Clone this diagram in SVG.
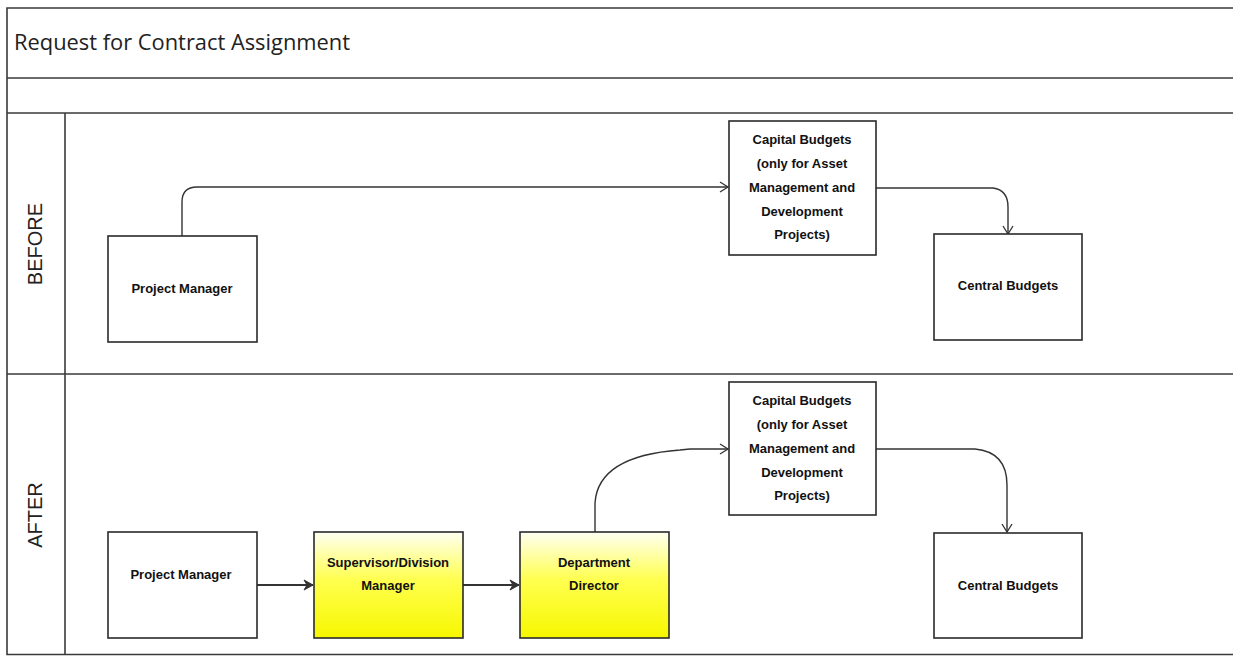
<svg xmlns="http://www.w3.org/2000/svg" width="1233" height="656" viewBox="0 0 1233 656">
<style>
.frame{fill:none;stroke:#3a3a3a;stroke-width:1.6}
.box{stroke:#2a2a2a;stroke-width:1.6}
.white{fill:#ffffff}
.yel{fill:url(#yg)}
.t{font-family:"Liberation Sans",Arial,sans-serif;font-size:13px;font-weight:bold;fill:#111;text-anchor:middle}
.lane{font-family:"Liberation Sans",Arial,sans-serif;font-size:20px;fill:#222;text-anchor:middle}
.conn{fill:none;stroke:#333;stroke-width:1.4}
.solid{fill:none;stroke:#333;stroke-width:2}
</style>
<defs>
<linearGradient id="yg" x1="0" y1="0" x2="0" y2="1">
<stop offset="0" stop-color="#fffff2"/>
<stop offset="0.45" stop-color="#ffff50"/>
<stop offset="1" stop-color="#f7f700"/>
</linearGradient>
<marker id="open" markerWidth="12" markerHeight="12" refX="10" refY="6" orient="auto" markerUnits="userSpaceOnUse">
<path d="M2,1 L10,6 L2,11" fill="none" stroke="#333" stroke-width="1.3"/>
</marker>
<marker id="fill" markerWidth="12" markerHeight="12" refX="10" refY="6" orient="auto" markerUnits="userSpaceOnUse">
<path d="M1,1 L10,6 L1,11 L4,6 Z" fill="#333" stroke="#333" stroke-width="1"/>
</marker>
</defs>
<rect width="1233" height="656" fill="#ffffff"/>
<g id="frame">
<path class="frame" d="M1233,8 H7 V654.5 H1233"/>
<line class="frame" x1="7" y1="78" x2="1233" y2="78"/>
<line class="frame" x1="7" y1="113" x2="1233" y2="113"/>
<line class="frame" x1="7" y1="374" x2="1233" y2="374"/>
<line class="frame" x1="65" y1="113" x2="65" y2="654.5"/>
<text x="14" y="50" font-family="'Open Sans','Liberation Sans',sans-serif" font-size="21" fill="#222" textLength="336" lengthAdjust="spacingAndGlyphs">Request for Contract Assignment</text>
<text class="lane" transform="translate(42,244) rotate(-90)">BEFORE</text>
<text class="lane" transform="translate(42,515) rotate(-90)">AFTER</text>
</g>
<g id="connectors">
<path class="conn" d="M182,236 V202 Q182,187 197,187 H728" marker-end="url(#open)"/>
<path class="conn" d="M876,188 H993 Q1008,190 1008,207 V234" marker-end="url(#open)"/>
<path class="solid" d="M257,585 H313" marker-end="url(#fill)"/>
<path class="solid" d="M463,585 H519" marker-end="url(#fill)"/>
<path class="conn" d="M595,532 V503 Q598,456 680,450 L690,449 H728" marker-end="url(#open)"/>
<path class="conn" d="M876,449 H975 Q1007,452 1007,485 V532" marker-end="url(#open)"/>
</g>
<g id="before-pm">
<rect class="box white" x="108" y="236" width="149" height="106"/>
<text class="t" x="182" y="293">Project Manager</text>
</g>
<g id="before-capital">
<rect class="box white" x="729" y="121" width="147" height="134"/>
<text class="t" x="802" y="144">Capital Budgets</text>
<text class="t" x="802" y="168">(only for Asset</text>
<text class="t" x="802" y="192">Management and</text>
<text class="t" x="802" y="216">Development</text>
<text class="t" x="802" y="239">Projects)</text>
</g>
<g id="before-central">
<rect class="box white" x="934" y="234" width="148" height="106"/>
<text class="t" x="1008" y="290">Central Budgets</text>
</g>
<g id="after-pm">
<rect class="box white" x="108" y="532" width="149" height="106"/>
<text class="t" x="181" y="579">Project Manager</text>
</g>
<g id="after-supervisor">
<rect class="box yel" x="314" y="532" width="149" height="106"/>
<text class="t" x="388" y="567">Supervisor/Division</text>
<text class="t" x="388" y="590">Manager</text>
</g>
<g id="after-director">
<rect class="box yel" x="520" y="532" width="149" height="106"/>
<text class="t" x="594" y="567">Department</text>
<text class="t" x="594" y="590">Director</text>
</g>
<g id="after-capital">
<rect class="box white" x="729" y="382" width="147" height="133"/>
<text class="t" x="802" y="405">Capital Budgets</text>
<text class="t" x="802" y="429">(only for Asset</text>
<text class="t" x="802" y="453">Management and</text>
<text class="t" x="802" y="477">Development</text>
<text class="t" x="802" y="500">Projects)</text>
</g>
<g id="after-central">
<rect class="box white" x="934" y="533" width="148" height="105"/>
<text class="t" x="1008" y="590">Central Budgets</text>
</g>
</svg>
